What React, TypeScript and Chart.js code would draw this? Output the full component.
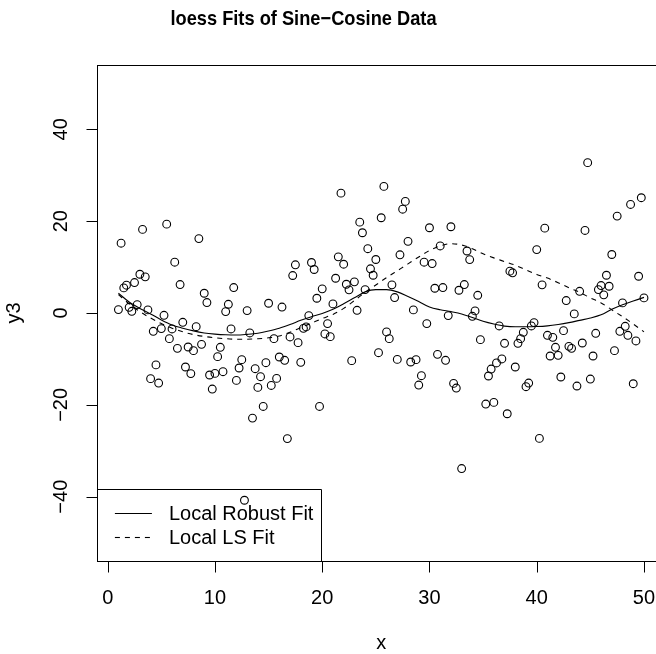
import React, { useEffect, useRef } from "react";
import { Chart, registerables } from "chart.js";

Chart.register(...registerables);

const W = 680;
const H = 654;
const FONT = '"Liberation Sans", Arial, Helvetica, sans-serif';

const titleText = "loess Fits of Sine\u2212Cosine Data";
const xLabel = "x";
const yLabel = "y3";
const legendLabels = ["Local Robust Fit", "Local LS Fit"];
const xTicks = [0, 10, 20, 30, 40, 50];
const yTicks = [-40, -20, 0, 20, 40];

const pointX = [
  1, 1.25, 1.5, 1.75, 2, 2.25, 2.5, 2.75, 3, 3.25, 3.5, 3.75,
  4, 4.25, 4.5, 4.75, 5, 5.25, 5.5, 5.75, 6, 6.25, 6.5, 6.75,
  7, 7.25, 7.5, 7.75, 8, 8.25, 8.5, 8.75, 9, 9.25, 9.5, 9.75,
  10, 10.25, 10.5, 10.75, 11, 11.25, 11.5, 11.75, 12, 12.25, 12.5, 12.75,
  13, 13.25, 13.5, 13.75, 14, 14.25, 14.5, 14.75, 15, 15.25, 15.5, 15.75,
  16, 16.25, 16.5, 16.75, 17, 17.25, 17.5, 17.75, 18, 18.25, 18.5, 18.75,
  19, 19.25, 19.5, 19.75, 20, 20.25, 20.5, 20.75, 21, 21.25, 21.5, 21.75,
  22, 22.25, 22.5, 22.75, 23, 23.25, 23.5, 23.75, 24, 24.25, 24.5, 24.75,
  25, 25.25, 25.5, 25.75, 26, 26.25, 26.5, 26.75, 27, 27.25, 27.5, 27.75,
  28, 28.25, 28.5, 28.75, 29, 29.25, 29.5, 29.75, 30, 30.25, 30.5, 30.75,
  31, 31.25, 31.5, 31.75, 32, 32.25, 32.5, 32.75, 33, 33.25, 33.5, 33.75,
  34, 34.25, 34.5, 34.75, 35.25, 35.5, 35.75,
  36, 36.25, 36.5, 36.75, 37, 37.25, 37.5, 37.75, 38, 38.25, 38.5, 38.75,
  39, 39.25, 39.5, 39.75, 40, 40.25, 40.5, 40.75, 41, 41.25, 41.5, 41.75,
  42, 42.25, 42.5, 42.75, 43, 43.25, 43.5, 43.75, 44, 44.25, 44.5, 44.75,
  45, 45.25, 45.5, 45.75, 46, 46.25, 46.5, 46.75, 47, 47.25, 47.5, 47.75,
  48, 48.25, 48.5, 48.75, 49, 49.25, 49.5, 49.75, 50,
];

const pointY = [
  0.74, 15.2, 5.47, 6.05, 1.24, 0.37, 6.63, 1.83, 8.44, 18.2, 7.87, 0.68,
  -14.3, -3.98, -11.3, -15.25, -3.4, -0.5, 19.35, -5.58, -3.47, 11.06, -7.7, 6.19,
  -2.02, -11.76, -7.4, -13.2, -8.2, -2.97, 16.2, -6.83, 4.3, 2.27, -13.5, -16.56,
  -13.15, -9.5, -7.47, -12.78, 0.3, 1.9, -3.47, 5.54, -14.68, -11.98, -10.16, -40.77,
  0.52, -4.34, -22.88, -12.13, -16.2, -13.87, -20.35, -10.82, 2.12, -15.77, -5.58, -14.24,
  -9.58, 1.3, -10.3, -27.35, -5.21, 8.16, 10.49, -6.46, -10.75, -3.34, -3.03, -0.57,
  11.0, 9.47, 3.21, -20.35, 5.26, -4.56, -2.31, -5.15, 1.98, 7.57, 12.23, 26.1,
  10.62, 6.26, 5.04, -10.38, 6.78, 0.59, 19.78, 17.47, 5.1, 14.0, 9.62, 8.22,
  11.65, -8.64, 20.74, 27.57, -4.13, -5.58, 6.13, 3.36, -10.1, 12.67, 22.6, 24.3,
  15.6, -10.67, 0.68, -10.16, -15.69, -13.65, 11.06, -2.31, 18.56, 10.77, 5.39, -9.0,
  14.6, 5.54, -10.3, -0.57, 18.78, -15.33, -16.34, 4.95, -33.87, 6.19, 13.5, 11.63,
  -0.72, 0.46, 3.86, -5.8, -19.83, -13.72, -12.2,
  -19.47, -10.88, -2.82, -10.0, -6.6, -21.94, 9.1, 8.75, -11.76, -6.6, -5.58, -4.2,
  -16.05, -15.25, -2.82, -2.09, 13.8, -27.3, 6.13, 18.48, -4.86, -9.36, -5.3, -7.47,
  -9.22, -13.94, -3.84, 2.71, -7.26, -7.7, -0.2, -15.9, 4.73, -6.53, 17.97, 32.74,
  -14.38, -9.36, -4.42, 5.1, 5.98, 3.95, 8.22, 5.82, 12.74, -8.2, 21.1, -3.99,
  2.2, -2.9, -4.86, 23.64, -15.4, -6.09, 8.0, 25.1, 3.29,
];

const fitX = [
  1, 2, 3, 4, 5, 6, 7, 8, 9, 10, 11, 12, 13, 14, 15, 16, 17, 18, 19, 20, 21, 22, 23, 24, 25,
  26, 27, 28, 29, 30, 31, 32, 33, 34, 35, 36, 37, 38, 39, 40, 41, 42, 43, 44, 45, 46, 47, 48, 49, 50,
];

const robustFit = [
  4.3, 2.4, 1.0, -0.2, -1.5, -2.6, -3.3, -3.9, -4.35, -4.6, -4.75, -4.8, -4.65, -4.4, -3.9,
  -3.3, -2.5, -1.6, -0.8, -0.1, 0.8, 2.0, 3.3, 4.6, 5.1, 5.1, 4.6, 3.6, 2.5, 1.3,
  0.7, 0.3, -0.2, -1.0, -1.8, -2.4, -2.85, -3.0, -3.0, -2.95, -2.8, -2.5, -2.1, -1.6, -1.1,
  -0.4, 0.8, 1.8, 2.6, 3.4,
];

const lsFit = [
  4.0, 2.0, 0.3, -1.1, -2.3, -3.3, -4.1, -4.7, -5.1, -5.4, -5.6, -5.7, -5.7, -5.6, -5.4,
  -5.0, -4.2, -3.2, -2.2, -1.2, -0.3, 1.0, 2.7, 4.5, 6.1, 7.7, 9.2, 10.7, 12.2, 13.6,
  14.6, 15.1, 14.8, 14.0, 12.9, 12.0, 11.2, 10.4, 9.4, 8.4, 7.6, 6.6, 5.5, 4.5, 3.3,
  2.2, 0.7, -0.8, -2.4, -4.1,
];

const fmt = (v: number) => String(v).replace("-", "\u2212");

const rPlotPlugin = {
  id: "rPlot",
  afterDraw(chart: any) {
    const { ctx, chartArea: a, scales } = chart;
    const xs = scales.x;
    const ys = scales.y;
    ctx.save();
    ctx.strokeStyle = "#000";
    ctx.fillStyle = "#000";
    ctx.lineWidth = 1;

    const L = Math.round(a.left) + 0.5;
    const T = Math.round(a.top) + 0.5;
    const B = Math.round(a.bottom) + 0.5;
    const R = Math.round(a.right) + 0.5;
    ctx.strokeRect(L, T, R - L, B - T);

    // x axis
    ctx.beginPath();
    ctx.moveTo(xs.getPixelForValue(xTicks[0]), B);
    ctx.lineTo(xs.getPixelForValue(xTicks[xTicks.length - 1]), B);
    xTicks.forEach((t) => {
      const px = Math.round(xs.getPixelForValue(t)) + 0.5;
      ctx.moveTo(px, B);
      ctx.lineTo(px, B + 11);
    });
    // y axis
    ctx.moveTo(L, ys.getPixelForValue(yTicks[0]));
    ctx.lineTo(L, ys.getPixelForValue(yTicks[yTicks.length - 1]));
    yTicks.forEach((t) => {
      const py = Math.round(ys.getPixelForValue(t)) + 0.5;
      ctx.moveTo(L, py);
      ctx.lineTo(L - 11, py);
    });
    ctx.stroke();

    ctx.font = `20px ${FONT}`;
    ctx.textAlign = "center";
    ctx.textBaseline = "middle";
    xTicks.forEach((t) => {
      ctx.fillText(fmt(t), xs.getPixelForValue(t), a.bottom + 37);
    });
    yTicks.forEach((t) => {
      ctx.save();
      ctx.translate(a.left - 35.5, ys.getPixelForValue(t));
      ctx.rotate(-Math.PI / 2);
      ctx.fillText(fmt(t), 0, 0);
      ctx.restore();
    });

    // axis titles
    ctx.fillText(xLabel, (a.left + a.right) / 2, a.bottom + 82);
    ctx.save();
    ctx.translate(a.left - 82.5, (a.top + a.bottom) / 2);
    ctx.rotate(-Math.PI / 2);
    ctx.fillText(yLabel, 0, 0);
    ctx.restore();

    // main title
    ctx.save();
    ctx.font = `bold 20.5px ${FONT}`;
    ctx.textBaseline = "alphabetic";
    ctx.translate(303.5, 25);
    ctx.scale(0.89, 1);
    ctx.fillText(titleText, 0, 0);
    ctx.restore();

    // legend (bottom-left)
    const lx0 = a.left;
    const ly0 = 489.5;
    const lx1 = a.left + 224.3;
    ctx.beginPath();
    ctx.rect(Math.round(lx0) + 0.5, ly0, Math.round(lx1 - lx0), B - ly0);
    ctx.stroke();
    const rows = [a.bottom - 47.5, a.bottom - 23.5];
    ctx.lineWidth = 1.1;
    rows.forEach((ry, i) => {
      ctx.beginPath();
      ctx.setLineDash(i === 1 ? [5, 5] : []);
      ctx.moveTo(a.left + 17.5, ry);
      ctx.lineTo(a.left + 54.5, ry);
      ctx.stroke();
    });
    ctx.setLineDash([]);
    ctx.textAlign = "left";
    ctx.font = `20px ${FONT}`;
    rows.forEach((ry, i) => {
      ctx.fillText(legendLabels[i], a.left + 71.5, ry + 1);
    });
    ctx.restore();
  },
};

export default function App() {
  const ref = useRef<HTMLCanvasElement | null>(null);

  useEffect(() => {
    const prevOverflow = document.body.style.overflow;
    document.body.style.overflow = "hidden";
    const canvas = ref.current;
    if (!canvas) return;
    const chart = new Chart(canvas, {
      type: "scatter",
      data: {
        datasets: [
          {
            label: "y3",
            data: pointX.map((x, i) => ({ x, y: pointY[i] })),
            showLine: false,
            pointRadius: 3.9,
            pointBorderWidth: 1.1,
            pointBorderColor: "#000",
            pointBackgroundColor: "rgba(0,0,0,0)",
            order: 3,
          },
          {
            label: legendLabels[0],
            data: fitX.map((x, i) => ({ x, y: robustFit[i] })),
            showLine: true,
            borderColor: "#000",
            borderWidth: 1.1,
            pointRadius: 0,
            cubicInterpolationMode: "monotone",
            order: 2,
          },
          {
            label: legendLabels[1],
            data: fitX.map((x, i) => ({ x, y: lsFit[i] })),
            showLine: true,
            borderColor: "#000",
            borderWidth: 1.1,
            borderDash: [5, 5],
            pointRadius: 0,
            cubicInterpolationMode: "monotone",
            order: 1,
          },
        ],
      } as any,
      options: {
        responsive: false,
        animation: false,
        events: [],
        devicePixelRatio: 1,
        layout: { padding: { left: 97.4, top: 65, right: W - 665, bottom: H - 561 } },
        scales: {
          x: { type: "linear", min: -0.96, max: 51.96, display: false },
          y: { type: "linear", min: -54, max: 54, display: false },
        },
        plugins: {
          legend: { display: false },
          title: { display: false },
          tooltip: { enabled: false },
        },
      } as any,
      plugins: [rPlotPlugin],
    });
    return () => {
      chart.destroy();
      document.body.style.overflow = prevOverflow;
    };
  }, []);

  return (
    <div style={{ position: "fixed", left: 0, top: 0, width: W, height: H, background: "#fff" }}>
      <canvas ref={ref} width={W} height={H} style={{ width: W, height: H, display: "block" }} />
    </div>
  );
}
